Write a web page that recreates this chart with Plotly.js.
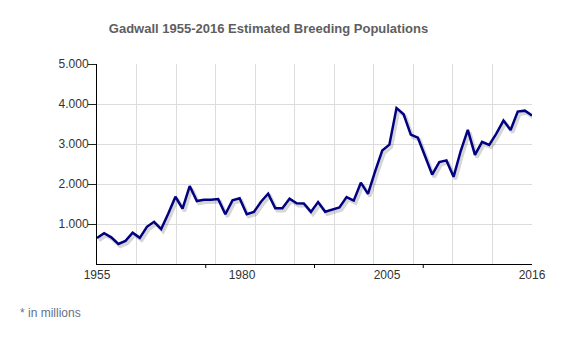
<!DOCTYPE html>
<html>
<head>
<meta charset="utf-8">
<script src="https://cdn.plot.ly/plotly-3.0.1.min.js"></script>
<style>html,body{margin:0;padding:0;background:#fff;}#chart{width:580px;height:350px;}</style>
</head>
<body>
<div id="chart"></div>
<script>
// Gadwall estimated breeding population, millions
const years = [1955,1956,1957,1958,1959,1960,1961,1962,1963,1964,1965,1966,1967,1968,1969,1970,1971,1972,1973,1974,1975,1976,1977,1978,1979,1980,1981,1982,1983,1984,1985,1986,1987,1988,1989,1990,1991,1992,1993,1994,1995,1996,1997,1998,1999,2000,2001,2002,2003,2004,2005,2006,2007,2008,2009,2010,2011,2012,2013,2014,2015,2016];
const population = [0.651,0.772,0.666,0.502,0.578,0.784,0.654,0.930,1.055,0.873,1.261,1.681,1.383,1.949,1.574,1.608,1.605,1.622,1.245,1.592,1.643,1.245,1.299,1.558,1.757,1.392,1.395,1.633,1.520,1.515,1.303,1.547,1.305,1.350,1.414,1.673,1.584,2.033,1.755,2.318,2.836,2.984,3.897,3.742,3.235,3.158,2.679,2.236,2.549,2.590,2.179,2.825,3.355,2.727,3.054,2.977,3.257,3.586,3.351,3.811,3.834,3.712];
const xTickLabels = ['1955','1980','2005','2016'];
const yTickValues = [1,2,3,4,5];

const x0 = years[0], x1 = years[years.length-1];
const span = x1 - x0;
const plotW = 435, plotH = 200;
const yMax = 5;
// shadow offsets (px)
const sx = 2 * span / plotW, sy = 2.5 * yMax / plotH;

const labelPos = xTickLabels.map((t,i)=> x0 + span * i / (xTickLabels.length-1));
const gridPos = []; for (let i=1;i<=11;i++) gridPos.push(x0 + span*i/11);
const quarterPos = [1,2,3].map(i=> x0 + span*i/4);

const shadow = {x: years, y: population, xaxis:'x', yaxis:'y', type:'scatter', mode:'lines',
  line:{color:'rgba(0,0,0,0.16)', width:3.5}, hoverinfo:'skip', showlegend:false};
const main = {x: years, y: population, xaxis:'x2', yaxis:'y2', type:'scatter', mode:'lines',
  line:{color:'#000080', width:2.5}, showlegend:false};

const font = {family:'"Liberation Sans", Arial, sans-serif', size:12, color:'#333'};

const layout = {
  width:580, height:350,
  margin:{l:97, r:48, t:64, b:86},
  paper_bgcolor:'#fff', plot_bgcolor:'#fff',
  font: font,
  showlegend:false,
  title:{text:'<b>Gadwall 1955-2016 Estimated Breeding Populations</b>',
    font:{family:'"Liberation Sans", Arial, sans-serif', size:13, color:'#5e5e5e'},
    xref:'container', yref:'container', x:268.5/580, xanchor:'center', y:1-28/350, yanchor:'middle'},
  xaxis:{range:[x0 - sx, x1 - sx], visible:false, fixedrange:true},
  yaxis:{range:[0 + sy, yMax + sy], visible:false, fixedrange:true},
  xaxis2:{overlaying:'x', anchor:'y2', side:'bottom', range:[x0, x1],
    tickmode:'array', tickvals: labelPos, ticktext: xTickLabels, ticks:'', ticklen:0,
    showgrid:false, zeroline:false, showline:true, linecolor:'#000', linewidth:1,
    minor:{tickmode:'array', tickvals: gridPos, showgrid:true, gridcolor:'#dcdcdc', gridwidth:1, ticks:''},
    tickfont:{family:'"Liberation Sans", Arial, sans-serif', size:12, color:'#333'}},
  yaxis2:{overlaying:'y', anchor:'x2', side:'left', range:[0, yMax],
    tickmode:'array', tickvals: yTickValues, tickformat:'.3f', ticks:'outside', ticklen:8, tickcolor:'#222',
    ticklabelstandoff:-3,
    showgrid:true, gridcolor:'#dcdcdc', gridwidth:1, zeroline:false, showline:true, linecolor:'#000', linewidth:1,
    tickfont:{family:'"Liberation Sans", Arial, sans-serif', size:12, color:'#333'}},
  shapes: quarterPos.map(q=>({type:'line', xref:'x2', yref:'paper', ysizemode:'pixel', yanchor:0,
    x0:q, x1:q, y0:0, y1:-4, line:{color:'#000', width:1}})),
  annotations:[{text:'* in millions', xref:'paper', yref:'paper', xanchor:'left', yanchor:'middle',
    x:(18-97)/plotW, y:-(313-264)/plotH, showarrow:false,
    font:{family:'"Liberation Sans", Arial, sans-serif', size:12, color:'#67708c'}}]
};

Plotly.newPlot('chart', [shadow, main], layout, {displayModeBar:false, staticPlot:true});
</script>
</body>
</html>
